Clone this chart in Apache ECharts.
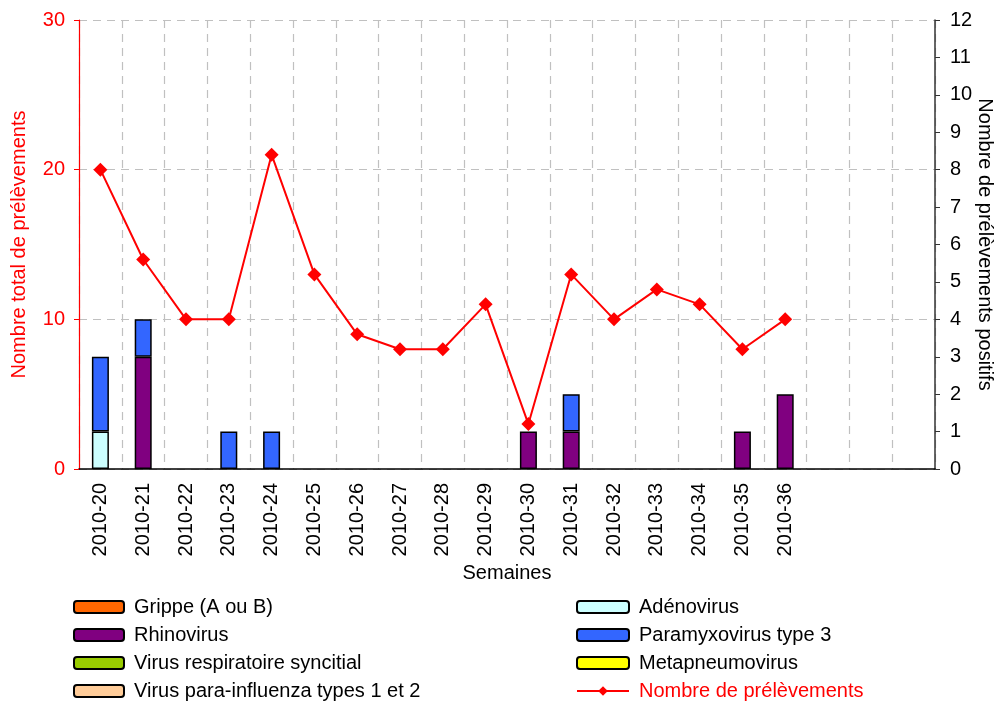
<!DOCTYPE html>
<html>
<head>
<meta charset="utf-8">
<script src="https://cdn.jsdelivr.net/npm/echarts@6/dist/echarts.min.js"></script>
<style>
  html, body { margin: 0; padding: 0; background: #fff; }
  #chart { width: 997px; height: 702px; }
</style>
</head>
<body>
<div id="chart"></div>
<script>
// semaines (3 colonnes vides a droite)
var weeks = ['2010-20', '2010-21', '2010-22', '2010-23', '2010-24', '2010-25', '2010-26',
  '2010-27', '2010-28', '2010-29', '2010-30', '2010-31', '2010-32', '2010-33', '2010-34',
  '2010-35', '2010-36', ' ', '  ', '   '];

// prelevements positifs par virus (axe de droite)
var grippe        = [0, 0, 0, 0, 0, 0, 0, 0, 0, 0, 0, 0, 0, 0, 0, 0, 0];
var adenovirus    = [1, 0, 0, 0, 0, 0, 0, 0, 0, 0, 0, 0, 0, 0, 0, 0, 0];
var rhinovirus    = [0, 3, 0, 0, 0, 0, 0, 0, 0, 0, 1, 1, 0, 0, 0, 1, 2];
var paramyxovirus = [2, 1, 0, 1, 1, 0, 0, 0, 0, 0, 0, 1, 0, 0, 0, 0, 0];
var vrs           = [0, 0, 0, 0, 0, 0, 0, 0, 0, 0, 0, 0, 0, 0, 0, 0, 0];
var metapneumo    = [0, 0, 0, 0, 0, 0, 0, 0, 0, 0, 0, 0, 0, 0, 0, 0, 0];
var paraInfluenza = [0, 0, 0, 0, 0, 0, 0, 0, 0, 0, 0, 0, 0, 0, 0, 0, 0];

// nombre total de prelevements (axe de gauche)
var totalPrelevements = [20, 14, 10, 10, 21, 13, 9, 8, 8, 11, 3, 13, 10, 12, 11, 8, 10];

var leftTicks = [0, 10, 20, 30];
var rightTicks = [0, 1, 2, 3, 4, 5, 6, 7, 8, 9, 10, 11, 12];

var font = 'Liberation Sans, Arial, sans-serif';
var grid = '#c0c0c0';

function barSerie(name, data, color) {
  return {
    name: name,
    type: 'bar',
    stack: 'virus',
    yAxisIndex: 1,
    barWidth: 17,
    itemStyle: { color: color, borderColor: '#000', borderWidth: 1.5 },
    data: data.map(function (v) { return v ? v : '-'; })
  };
}

var legendText = { fontSize: 20, lineHeight: 20, color: '#000', padding: [0, 0, 0, 5] };

var chart = echarts.init(document.getElementById('chart'));
chart.setOption({
  animation: false,
  textStyle: { fontFamily: font },
  grid: { left: 79, right: 62, top: 20, bottom: 233, containLabel: false, outerBoundsMode: 'none' },
  legend: [{
    left: 73, top: 597, height: 140, orient: 'vertical', padding: 0,
    itemWidth: 50, itemHeight: 12, itemGap: 8,
    textStyle: legendText,
    data: ['Grippe (A ou B)', 'Rhinovirus', 'Virus respiratoire syncitial', 'Virus para-influenza types 1 et 2']
  }, {
    left: 576, top: 597, height: 140, orient: 'vertical', padding: 0,
    itemWidth: 52, itemHeight: 12, itemGap: 8,
    textStyle: legendText,
    data: ['Adénovirus', 'Paramyxovirus type 3', 'Metapneumovirus',
      { name: 'Nombre de prélèvements', textStyle: { color: '#ff0000' } }]
  }],
  xAxis: {
    type: 'category',
    data: weeks,
    name: 'Semaines',
    nameLocation: 'middle',
    nameGap: 94,
    nameMoveOverlap: false,
    nameTextStyle: { fontSize: 20, color: '#000' },
    axisLine: { lineStyle: { color: '#000', width: 1.5 } },
    axisTick: { interval: 1, length: 5, lineStyle: { color: '#000' } },
    axisLabel: { rotate: 90, interval: 0, fontSize: 20, color: '#000', margin: 14 },
    splitLine: { show: true, interval: 0, lineStyle: { color: grid, type: [8, 6], width: 1.2 } }
  },
  yAxis: [{
    type: 'value',
    min: leftTicks[0], max: leftTicks[leftTicks.length - 1], interval: 10,
    name: 'Nombre total de prélèvements',
    nameLocation: 'middle',
    nameGap: 50,
    nameMoveOverlap: false,
    nameTextStyle: { fontSize: 20, color: '#ff0000' },
    axisLine: { show: true, lineStyle: { color: '#ff0000', width: 1.2 } },
    axisTick: { show: true, length: 5, lineStyle: { color: '#ff0000' } },
    axisLabel: { fontSize: 20, color: '#ff0000', margin: 14 },
    splitLine: { show: true, lineStyle: { color: grid, type: [8, 6], width: 1.2 } }
  }, {
    type: 'value',
    position: 'right',
    min: rightTicks[0], max: rightTicks[rightTicks.length - 1], interval: 1,
    name: 'Nombre de prélèvements positifs',
    nameLocation: 'middle',
    nameGap: 40,
    nameRotate: -90,
    nameMoveOverlap: false,
    nameTextStyle: { fontSize: 20, color: '#000' },
    axisLine: { show: true, lineStyle: { color: '#333', width: 1.5 } },
    axisTick: { show: true, length: 5, lineStyle: { color: '#333' } },
    axisLabel: { fontSize: 20, color: '#000', margin: 15 },
    splitLine: { show: false }
  }],
  series: [
    barSerie('Grippe (A ou B)', grippe, '#ff6600'),
    barSerie('Adénovirus', adenovirus, '#ccffff'),
    barSerie('Rhinovirus', rhinovirus, '#800080'),
    barSerie('Paramyxovirus type 3', paramyxovirus, '#3366ff'),
    barSerie('Virus respiratoire syncitial', vrs, '#99cc00'),
    barSerie('Metapneumovirus', metapneumo, '#ffff00'),
    barSerie('Virus para-influenza types 1 et 2', paraInfluenza, '#ffcc99'),
    {
      name: 'Nombre de prélèvements',
      type: 'line',
      yAxisIndex: 0,
      symbol: 'diamond',
      symbolSize: 14,
      itemStyle: { color: '#ff0000' },
      lineStyle: { color: '#ff0000', width: 2 },
      data: totalPrelevements
    }
  ]
});
</script>
</body>
</html>
